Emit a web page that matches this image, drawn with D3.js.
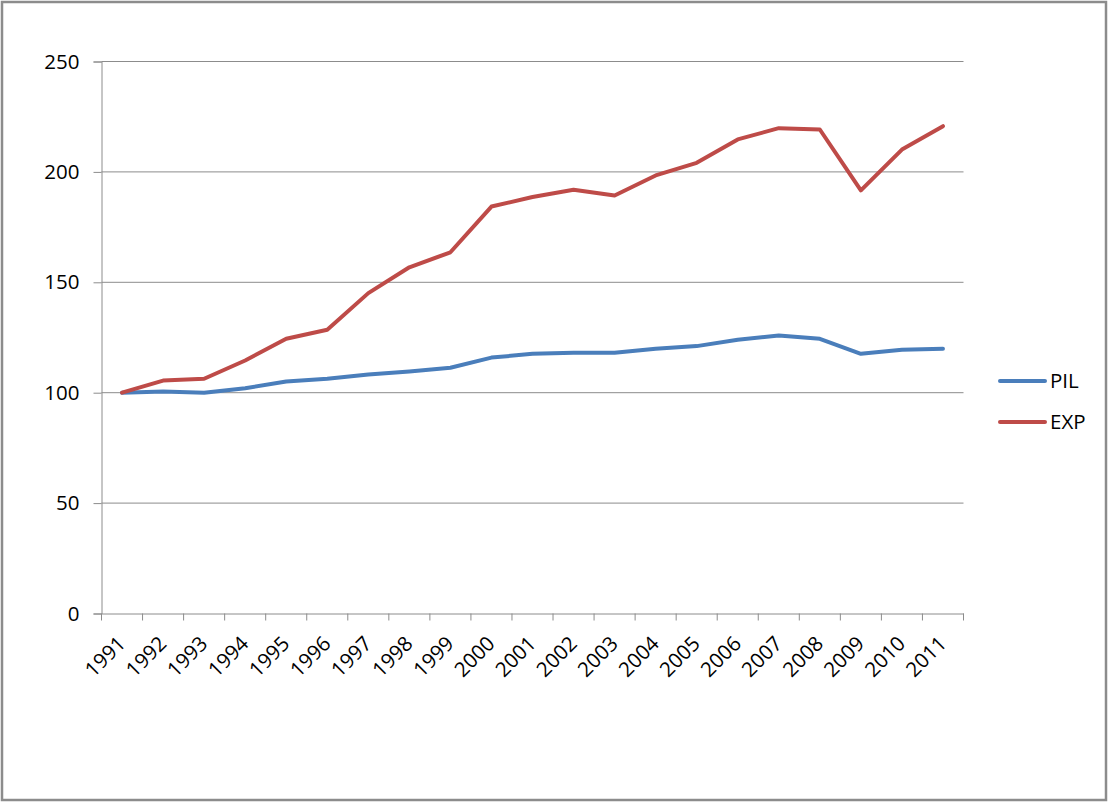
<!DOCTYPE html>
<html>
<head>
<meta charset="utf-8">
<script src="https://cdn.jsdelivr.net/npm/d3@7"></script>
<style>
html,body{margin:0;padding:0;background:#fff;}
svg{display:block;}
text{font-family:"Open Sans","Liberation Sans",sans-serif;fill:#000;}
</style>
</head>
<body>
<script>
const years = ["1991","1992","1993","1994","1995","1996","1997","1998","1999","2000","2001","2002","2003","2004","2005","2006","2007","2008","2009","2010","2011"];
const pil = [100,100.5,100.0,102.0,105.1,106.3,108.2,109.6,111.3,115.9,117.6,118.1,118.1,119.9,121.1,124.0,125.9,124.4,117.6,119.4,119.9];
const exp = [100,105.5,106.3,114.6,124.4,128.5,145.1,156.8,163.6,184.3,188.6,191.9,189.3,198.4,204.1,214.7,219.8,219.2,191.6,210.1,220.7];
const yTicks = [0,50,100,150,200,250];
const seriesNames = ["PIL","EXP"];
const colors = ["#4A7EBB","#BE4B48"];

(function(){
const W = 1112, H = 804;
const FS = "20.5px";
const svg = d3.select("body").append("svg").attr("width",W).attr("height",H);

// frame
svg.append("rect").attr("x",2).attr("y",2).attr("width",1104).attr("height",798)
  .attr("fill","#fff").attr("stroke","#8c8c8c").attr("stroke-width",2.5);

const mLeft = 101.5, mRight = 963.5, mTop = 61.5, mBottom = 613.5;
const x = d3.scaleBand().domain(years).range([mLeft,mRight]).padding(0);
const y = d3.scaleLinear().domain([0,250]).range([mBottom,mTop]);

// gridlines
svg.append("g").selectAll("line").data(yTicks.filter(d=>d>0)).join("line")
  .attr("x1",mLeft).attr("x2",mRight).attr("y1",d=>y(d)).attr("y2",d=>y(d))
  .attr("stroke","#8c8c8c").attr("stroke-width",1);

// y axis
const yAxis = svg.append("g").attr("transform",`translate(${mLeft},0)`)
  .call(d3.axisLeft(y).tickValues(yTicks).tickSize(8).tickPadding(14));
yAxis.attr("font-size",FS).attr("font-family",null);
yAxis.select(".domain").attr("stroke","#8c8c8c");
yAxis.selectAll(".tick line").attr("stroke","#8c8c8c");
yAxis.selectAll("text").attr("fill","#000");

// x axis
const xAxis = svg.append("g").attr("transform",`translate(0,${mBottom})`)
  .call(d3.axisBottom(x).tickSize(0));
xAxis.attr("font-size",FS).attr("font-family",null);
xAxis.select(".domain").attr("stroke","#8c8c8c");
const bounds = years.map((d)=>x(d)).concat([mRight]);
xAxis.selectAll(".bt").data(bounds).join("line").attr("class","bt")
  .attr("x1",d=>d).attr("x2",d=>d).attr("y1",0).attr("y2",7).attr("stroke","#8c8c8c");
xAxis.selectAll(".tick text")
  .attr("fill","#000")
  .attr("text-anchor","end")
  .attr("dy",null)
  .attr("transform","translate(4.7,31.5) rotate(-45)")
  .attr("y",0).attr("x",0);

// lines
const line = d3.line().x((d,i)=>x(years[i])+x.bandwidth()/2).y(d=>y(d));
[pil,exp].forEach((s,i)=>{
  svg.append("path").datum(s).attr("d",line).attr("fill","none")
    .attr("stroke",colors[i]).attr("stroke-width",4).attr("stroke-linejoin","round").attr("stroke-linecap","round");
});

// legend
const lg = svg.append("g");
seriesNames.forEach((n,i)=>{
  const yy = 381 + i*41;
  lg.append("line").attr("x1",1000).attr("x2",1045).attr("y1",yy).attr("y2",yy)
    .attr("stroke",colors[i]).attr("stroke-width",4).attr("stroke-linecap","round");
  lg.append("text").attr("x",1050).attr("y",yy).attr("dy","0.35em").attr("font-size",FS).text(n);
});
})();
</script>
</body>
</html>
